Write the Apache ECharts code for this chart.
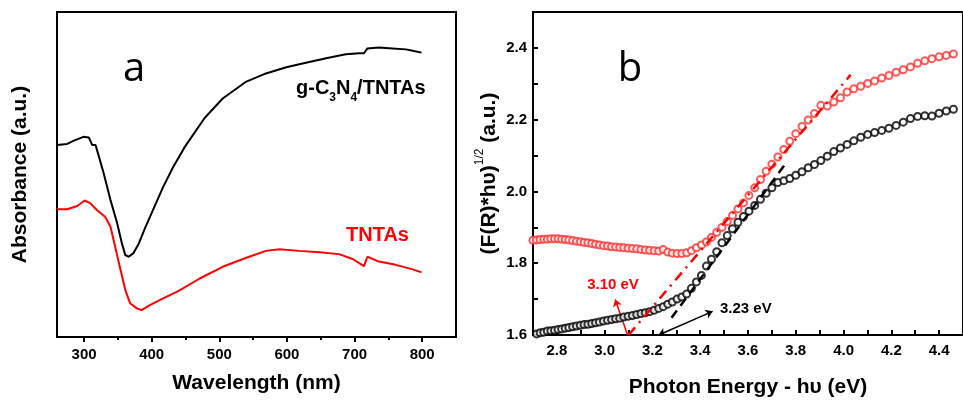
<!DOCTYPE html>
<html>
<head>
<meta charset="utf-8">
<script src="https://cdn.jsdelivr.net/npm/echarts@6/dist/echarts.min.js"></script>
<style>
html, body { margin: 0; background: #fff; }
#chart { width: 963px; height: 403px; }
</style>
</head>
<body>
<div id="chart"></div>
<script>
// panel a - absorbance spectra
const wlComposite = [260,275,285,299,307,312,317,322,329,339,349,356,361,366,373,381,390,403,417,432,449,478,505,540,569,599,628,658,687,707,714,719,736,756,776,786,799]
const absComposite = [59.1,59.4,60.4,61.6,61.4,59.1,59.1,55.5,50.4,42.2,35.0,28.8,25.2,24.7,25.8,28.8,33.4,39.6,46.2,52.4,58.5,67.3,73.4,78.6,81.1,83.0,84.4,85.8,87.0,87.3,87.3,88.8,89.1,88.8,88.5,88.1,87.5]
const wlTNTAs = [260,275,290,301,309,319,331,339,346,354,361,368,378,385,398,417,437,445,471,505,540,569,589,618,648,677,697,714,719,736,761,786,799]
const absTNTAs = [39.3,39.3,40.3,42.0,41.2,39.1,37.0,34.0,27.8,20.6,14.5,10.4,8.8,8.3,9.9,11.9,13.9,14.8,18.0,21.6,24.4,26.5,27.0,26.5,26.1,25.5,24.0,21.8,24.7,23.2,22.2,20.8,19.9]
const waveTicks = [300,400,500,600,700,800]
const waveMinorTicks = [350,450,550,650,750]

// panel b - Tauc plot
const energy = [2.70,2.715,2.73,2.745,2.76,2.775,2.79,2.805,2.82,2.835,
    2.85,2.866,2.882,2.898,2.914,2.93,2.946,2.962,2.978,2.995,
    3.012,3.029,3.046,3.063,3.08,3.098,3.116,3.134,3.152,3.17,
    3.188,3.207,3.226,3.245,3.264,3.283,3.303,3.323,3.343,3.363,
    3.384,3.405,3.426,3.447,3.469,3.491,3.513,3.535,3.558,3.581,
    3.604,3.628,3.652,3.676,3.70,3.725,3.75,3.775,3.80,3.826,
    3.852,3.878,3.905,3.932,3.959,3.987,4.015,4.043,4.072,4.101,
    4.13,4.16,4.19,4.22,4.25,4.28,4.31,4.34,4.37,4.40,
    4.43,4.46]
const taucTNTAs = [1.864,1.865,1.866,1.867,1.867,1.868,1.868,1.868,1.867,1.866,
    1.865,1.863,1.861,1.860,1.858,1.857,1.855,1.853,1.851,1.849,
    1.848,1.846,1.845,1.844,1.843,1.842,1.841,1.840,1.838,1.837,
    1.836,1.835,1.834,1.838,1.831,1.828,1.827,1.827,1.829,1.835,
    1.843,1.851,1.859,1.872,1.886,1.900,1.916,1.933,1.951,1.968,
    1.989,2.010,2.033,2.056,2.076,2.096,2.117,2.140,2.161,2.181,
    2.199,2.217,2.240,2.238,2.249,2.261,2.277,2.286,2.293,2.301,
    2.308,2.316,2.323,2.332,2.339,2.347,2.357,2.364,2.370,2.375,
    2.379,2.383]
const taucComposite = [1.598,1.603,1.606,1.608,1.611,1.612,1.613,1.615,1.617,1.619,
    1.621,1.623,1.625,1.627,1.629,1.630,1.632,1.634,1.636,1.639,
    1.641,1.643,1.645,1.647,1.650,1.652,1.654,1.657,1.660,1.662,
    1.665,1.669,1.674,1.679,1.686,1.692,1.700,1.706,1.714,1.730,
    1.748,1.766,1.792,1.811,1.832,1.857,1.877,1.896,1.914,1.930,
    1.945,1.961,1.978,1.995,2.010,2.025,2.030,2.036,2.045,2.055,
    2.066,2.075,2.086,2.098,2.111,2.121,2.131,2.141,2.151,2.159,
    2.164,2.170,2.176,2.184,2.193,2.203,2.209,2.211,2.210,2.218,
    2.224,2.229]
const fitTNTAs = [[3.10, 1.60], [4.03, 2.325]]
const fitComposite = [[3.28, 1.648], [3.766, 2.085]]
const arrowTNTAs = [[3.096, 1.60], [3.044, 1.699]]
const arrowComposite = [[3.226, 1.60], [3.452, 1.666]]
const energyLabels = [2.8,3.0,3.2,3.4,3.6,3.8,4.0,4.2,4.4]
const energyTicks = [2.7,2.8,2.9,3.0,3.1,3.2,3.3,3.4,3.5,3.6,3.7,3.8,3.9,4.0,4.1,4.2,4.3,4.4]
const taucLabels = [1.6,1.8,2.0,2.2,2.4]
const taucTicks = [1.6,1.7,1.8,1.9,2.0,2.1,2.2,2.3,2.4]

const FONT = '"Liberation Sans", Arial, sans-serif'
const zip = (xs, ys) => xs.map((x, i) => [x, ys[i]])
const tickLine = { color: '#000', width: 2 }

let chart = echarts.init(document.getElementById('chart'), null, { renderer: 'canvas' })
chart.setOption({
    animation: false,
    textStyle: { fontFamily: FONT },
    grid: [
        { left: 57, top: 12, width: 399, height: 325, show: true, borderColor: '#000', borderWidth: 2 },
        { left: 533, top: 12, width: 440, height: 324, show: true, borderColor: '#000', borderWidth: 2 }
    ],
    xAxis: [
        {
            gridIndex: 0, type: 'value', min: 260, max: 850,
            name: 'Wavelength (nm)', nameLocation: 'middle', nameGap: 36,
            nameTextStyle: { fontSize: 21, fontWeight: 'bold', color: '#000', fontFamily: FONT },
            axisLine: { lineStyle: tickLine },
            axisTick: { customValues: waveTicks, length: 5, lineStyle: tickLine },
            axisLabel: { customValues: waveTicks, fontSize: 15, fontWeight: 'bold', color: '#000', margin: 10, fontFamily: FONT },
            splitLine: { show: false }
        },
        {
            gridIndex: 0, type: 'value', min: 260, max: 850, position: 'bottom',
            axisLine: { show: false },
            axisTick: { customValues: waveMinorTicks, length: 3, lineStyle: tickLine },
            axisLabel: { show: false },
            splitLine: { show: false }
        },
        {
            gridIndex: 1, type: 'value', min: 2.7, max: 4.5,
            name: 'Photon Energy - hυ (eV)', nameLocation: 'middle', nameGap: 42,
            nameTextStyle: { fontSize: 21, fontWeight: 'bold', color: '#000', fontFamily: FONT },
            axisLine: { lineStyle: tickLine },
            axisTick: { customValues: energyTicks, inside: true, length: 5, lineStyle: tickLine },
            axisLabel: {
                customValues: energyLabels, fontSize: 15, fontWeight: 'bold', color: '#000', margin: 8, fontFamily: FONT,
                formatter: v => v.toFixed(1)
            },
            splitLine: { show: false }
        }
    ],
    yAxis: [
        {
            gridIndex: 0, type: 'value', min: 0, max: 100,
            name: 'Absorbance (a.u.)', nameLocation: 'middle', nameGap: 26,
            nameTextStyle: { fontSize: 21, fontWeight: 'bold', color: '#000', fontFamily: FONT },
            axisLine: { lineStyle: tickLine },
            axisTick: { show: false },
            axisLabel: { show: false },
            splitLine: { show: false }
        },
        {
            gridIndex: 1, type: 'value', min: 1.6, max: 2.5,
            name: '{m|(F(R)*hυ)}{p|1/2}{m| (a.u.)}', nameLocation: 'middle', nameGap: 33,
            nameTextStyle: {
                rich: {
                    m: { fontSize: 21, fontWeight: 'bold', color: '#000', fontFamily: FONT, lineHeight: 26, verticalAlign: 'bottom' },
                    p: { fontSize: 12, color: '#000', fontFamily: FONT, lineHeight: 12, verticalAlign: 'top' }
                }
            },
            axisLine: { lineStyle: tickLine },
            axisTick: { customValues: taucTicks, inside: true, length: 5, lineStyle: tickLine },
            axisLabel: {
                customValues: taucLabels, fontSize: 15, fontWeight: 'bold', color: '#000', margin: 6, fontFamily: FONT,
                formatter: v => v.toFixed(1)
            },
            splitLine: { show: false }
        }
    ],
    series: [
        {
            name: 'g-C3N4/TNTAs', type: 'line', xAxisIndex: 0, yAxisIndex: 0,
            data: zip(wlComposite, absComposite), showSymbol: false,
            lineStyle: { color: '#000', width: 2 }
        },
        {
            name: 'TNTAs', type: 'line', xAxisIndex: 0, yAxisIndex: 0,
            data: zip(wlTNTAs, absTNTAs), showSymbol: false,
            lineStyle: { color: '#ff0000', width: 2 }
        },
        {
            name: 'TNTAs tauc', type: 'scatter', xAxisIndex: 2, yAxisIndex: 1,
            data: zip(energy, taucTNTAs), symbol: 'emptyCircle', symbolSize: 7,
            itemStyle: { color: '#ff3030', borderColor: '#ff3030', borderWidth: 1 }
        },
        {
            name: 'composite tauc', type: 'scatter', xAxisIndex: 2, yAxisIndex: 1,
            data: zip(energy, taucComposite), symbol: 'emptyCircle', symbolSize: 7,
            itemStyle: { color: '#000', borderColor: '#000', borderWidth: 1 }
        },
        {
            type: 'line', xAxisIndex: 2, yAxisIndex: 1, data: fitTNTAs, showSymbol: false,
            lineStyle: { color: '#ff0000', width: 2.5, type: [10, 6, 2, 6] }
        },
        {
            type: 'line', xAxisIndex: 2, yAxisIndex: 1, data: fitComposite, showSymbol: false,
            lineStyle: { color: '#000', width: 2.5, type: [9, 6] }
        },
        {
            type: 'lines', coordinateSystem: 'cartesian2d', xAxisIndex: 2, yAxisIndex: 1,
            data: [{ coords: arrowTNTAs }], symbol: ['none', 'arrow'], symbolSize: 7,
            lineStyle: { color: '#ff0000', width: 1.5, opacity: 1 }
        },
        {
            type: 'lines', coordinateSystem: 'cartesian2d', xAxisIndex: 2, yAxisIndex: 1,
            data: [{ coords: arrowComposite }], symbol: ['arrow', 'arrow'], symbolSize: 7,
            lineStyle: { color: '#000', width: 1.5, opacity: 1 }
        }
    ],
    graphic: [
        { type: 'text', x: 134, y: 70, style: { text: 'a', font: '40px "Open Sans", sans-serif', fill: '#000', align: 'center', verticalAlign: 'middle' } },
        { type: 'text', x: 630, y: 70, style: { text: 'b', font: '40px "Open Sans", sans-serif', fill: '#000', align: 'center', verticalAlign: 'middle' } },
        {
            type: 'text', x: 296, y: 78,
            style: {
                text: '{m|g-C}{s|3}{m|N}{s|4}{m|/TNTAs}',
                rich: {
                    m: { font: 'bold 20px ' + FONT, fill: '#000', lineHeight: 26, verticalAlign: 'top' },
                    s: { font: 'bold 12px ' + FONT, fill: '#000', lineHeight: 14, verticalAlign: 'bottom' }
                }
            }
        },
        { type: 'text', x: 346, y: 235, style: { text: 'TNTAs', font: 'bold 20px ' + FONT, fill: '#ff0000', verticalAlign: 'middle' } },
        { type: 'text', x: 613, y: 285, style: { text: '3.10 eV', font: 'bold 15px ' + FONT, fill: '#ff0000', align: 'center', verticalAlign: 'middle' } },
        { type: 'text', x: 720, y: 309, style: { text: '3.23 eV', font: 'bold 15px ' + FONT, fill: '#000', verticalAlign: 'middle' } }
    ]
})
</script>
</body>
</html>
